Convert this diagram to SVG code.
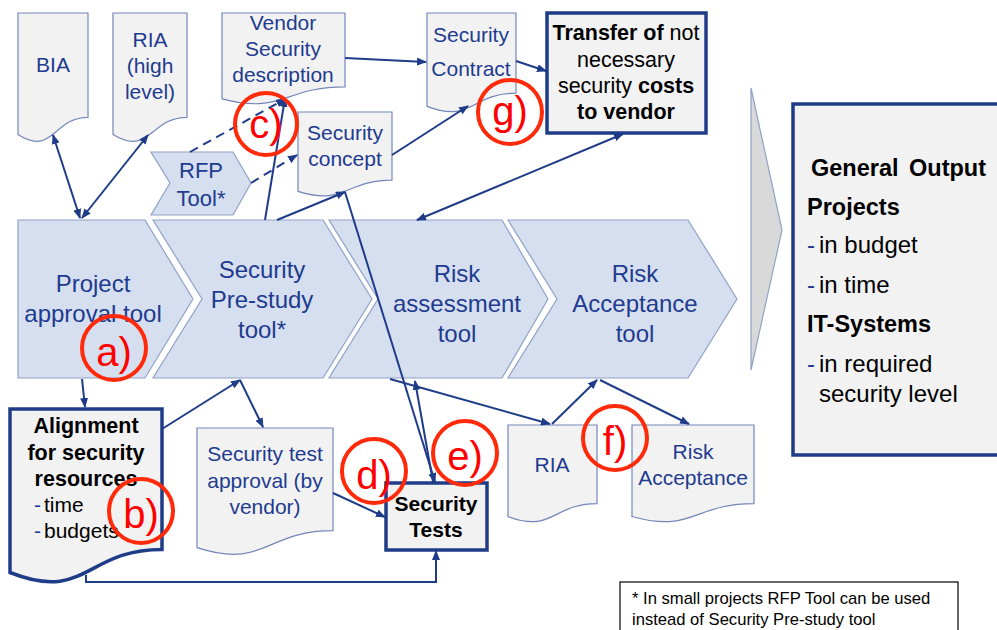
<svg xmlns="http://www.w3.org/2000/svg" width="997" height="630" viewBox="0 0 997 630">
  <defs>
    <marker id="ah" viewBox="0 0 10 8" refX="9" refY="4" markerWidth="10" markerHeight="8" markerUnits="userSpaceOnUse" orient="auto-start-reverse">
      <path d="M0,0 L10,4 L0,8 z" fill="#1F3C88"/>
    </marker>
    <style>
      .chev { fill: #D6DFEF; stroke: #8FA2C6; stroke-width: 1.2; }
      .doc { fill: #F2F2F2; stroke: #7386B8; stroke-width: 1.2; }
      .docB { fill: #F2F2F2; stroke: #1F3C88; stroke-width: 3.5; }
      .t { font-family: "Liberation Sans", Arial, sans-serif; fill: #1E3B8F; text-anchor: middle; }
      .k { font-family: "Liberation Sans", Arial, sans-serif; fill: #000; }
      .b { font-weight: bold; }
      .con { fill: none; stroke: #1F3C88; stroke-width: 2; }
      .dash { stroke-dasharray: 9 6; }
      .ring { fill: none; stroke: #FF2A0A; stroke-width: 4; }
      .lbl { font-family: "Liberation Sans", Arial, sans-serif; fill: #FF0000; font-size: 40px; text-anchor: middle; }
    </style>
  </defs>

  <!-- process chevrons -->
  <g id="project-approval-tool">
    <path class="chev" d="M18,220 H145 L193,299 L145,378 H18 Z"/>
    <text class="t" font-size="24" x="93" y="292">Project</text>
    <text class="t" font-size="24" x="93" y="322">approval tool</text>
  </g>
  <g id="security-prestudy-tool">
    <path class="chev" d="M153,220 H323 L372,299 L323,378 H153 L202,299 Z"/>
    <text class="t" font-size="24" x="262" y="278">Security</text>
    <text class="t" font-size="24" x="262" y="308">Pre-study</text>
    <text class="t" font-size="24" x="262" y="338">tool*</text>
  </g>
  <g id="risk-assessment-tool">
    <path class="chev" d="M329,220 H502 L548,299 L502,378 H329 L378,299 Z"/>
    <text class="t" font-size="24" x="457" y="282">Risk</text>
    <text class="t" font-size="24" x="457" y="312">assessment</text>
    <text class="t" font-size="24" x="457" y="342">tool</text>
  </g>
  <g id="risk-acceptance-tool">
    <path class="chev" d="M508,220 H688 L737,299 L688,378 H508 L557,299 Z"/>
    <text class="t" font-size="24" x="635" y="282">Risk</text>
    <text class="t" font-size="24" x="635" y="312">Acceptance</text>
    <text class="t" font-size="24" x="635" y="342">tool</text>
  </g>

  <!-- large output arrow -->
  <g id="output-arrow">
    <path d="M751,88 L782,230 L751,370 Z" fill="#D9D9D9" stroke="#8FA2C6" stroke-width="1.2"/>
  </g>

  <!-- general output box -->
  <g id="general-output">
    <rect x="793" y="104" width="220" height="351" fill="#F2F2F2" stroke="#1F3C88" stroke-width="3.5"/>
    <text class="k b" font-size="23.5" x="811" y="176" word-spacing="4">General Output</text>
    <text class="k b" font-size="23.5" x="807" y="215">Projects</text>
    <text class="k" font-size="24" x="807" y="253"><tspan fill="#1E3B8F">-</tspan><tspan x="819">in budget</tspan></text>
    <text class="k" font-size="24" x="807" y="293"><tspan fill="#1E3B8F">-</tspan><tspan x="819">in time</tspan></text>
    <text class="k b" font-size="23.5" x="807" y="332">IT-Systems</text>
    <text class="k" font-size="24" x="807" y="372"><tspan fill="#1E3B8F">-</tspan><tspan x="819">in required</tspan></text>
    <text class="k" font-size="24" x="819" y="402">security level</text>
  </g>

  <!-- documents, top row -->
  <g id="bia">
    <path class="doc" d="M18,13 H88 V117.3 C53,117.3 53,156.9 18,134.4 Z"/>
    <text class="t" font-size="21" x="53" y="72">BIA</text>
  </g>
  <g id="ria-high-level">
    <path class="doc" d="M113,13 H187 V117.3 C150,117.3 150,156.9 113,134.4 Z"/>
    <text class="t" font-size="21" x="150" y="47">RIA</text>
    <text class="t" font-size="21" x="150" y="73">(high</text>
    <text class="t" font-size="21" x="150" y="99">level)</text>
  </g>
  <g id="vendor-security-description">
    <path class="doc" d="M222,13 H345 V86.8 C283.5,86.8 283.5,114.8 222,98.9 Z"/>
    <text class="t" font-size="21" x="283" y="30">Vendor</text>
    <text class="t" font-size="21" x="283" y="56">Security</text>
    <text class="t" font-size="21" x="283" y="82">description</text>
  </g>
  <g id="security-contract">
    <path class="doc" d="M427,13 H516 V93.2 C471.5,93.2 471.5,123.7 427,106.4 Z"/>
    <text class="t" font-size="21" x="471" y="42">Security</text>
    <text class="t" font-size="21" x="471" y="76">Contract</text>
  </g>
  <g id="security-concept">
    <path class="doc" d="M298,112 H392 V180.2 C345,180.2 345,206.1 298,191.4 Z"/>
    <text class="t" font-size="21" x="345" y="140">Security</text>
    <text class="t" font-size="21" x="345" y="166">concept</text>
  </g>
  <g id="rfp-tool">
    <path class="chev" d="M151,152 H233 L251,183 L233,215 H151 L170,183 Z"/>
    <text class="t" font-size="22" x="201" y="178">RFP</text>
    <text class="t" font-size="22" x="201" y="206">Tool*</text>
  </g>
  <g id="transfer-costs">
    <rect x="547" y="13" width="159" height="120" fill="#F2F2F2" stroke="#1F3C88" stroke-width="3.5"/>
    <text class="k" font-size="21.5" x="626" y="40" text-anchor="middle"><tspan font-weight="bold">Transfer of</tspan> not</text>
    <text class="k" font-size="21.5" x="626" y="67" text-anchor="middle">necessary</text>
    <text class="k" font-size="21.5" x="626" y="93" text-anchor="middle">security <tspan font-weight="bold">costs</tspan></text>
    <text class="k b" font-size="21.5" x="626" y="119" text-anchor="middle">to vendor</text>
  </g>

  <!-- documents, bottom row -->
  <g id="alignment-resources">
    <path class="docB" d="M10,409 H162 V549.4 C86,549.4 86,602.7 10,572.5 Z"/>
    <text class="k b" font-size="21.5" x="86" y="433" text-anchor="middle">Alignment</text>
    <text class="k b" font-size="21.5" x="86" y="460" text-anchor="middle">for security</text>
    <text class="k b" font-size="21.5" x="86" y="486" text-anchor="middle">resources</text>
    <text class="k" font-size="21" x="34" y="512"><tspan fill="#1E3B8F">-</tspan><tspan x="44">time</tspan></text>
    <text class="k" font-size="21" x="34" y="538"><tspan fill="#1E3B8F">-</tspan><tspan x="44">budgets</tspan></text>
  </g>
  <g id="security-test-approval">
    <path class="doc" d="M197,428 H333 V530.7 C265,530.7 265,569.7 197,547.6 Z"/>
    <text class="t" font-size="21" x="265" y="461">Security test</text>
    <text class="t" font-size="21" x="265" y="488">approval (by</text>
    <text class="t" font-size="21" x="265" y="514">vendor)</text>
  </g>
  <g id="security-tests">
    <rect x="386" y="483" width="101" height="67" fill="#F2F2F2" stroke="#1F3C88" stroke-width="3.5"/>
    <text class="k b" font-size="21" x="436" y="511" text-anchor="middle">Security</text>
    <text class="k b" font-size="21" x="436" y="537" text-anchor="middle">Tests</text>
  </g>
  <g id="ria">
    <path class="doc" d="M508,425 H597 V503.6 C552.5,503.6 552.5,533.5 508,516.5 Z"/>
    <text class="t" font-size="21" x="552" y="472">RIA</text>
  </g>
  <g id="risk-acceptance">
    <path class="doc" d="M632,425 H754 V503.6 C693,503.6 693,533.5 632,516.5 Z"/>
    <text class="t" font-size="21" x="693" y="459">Risk</text>
    <text class="t" font-size="21" x="693" y="485">Acceptance</text>
  </g>

  <!-- footnote -->
  <g id="footnote">
    <rect x="620" y="582" width="338" height="60" fill="#FFFFFF" stroke="#000" stroke-width="1.2"/>
    <text class="k" font-size="16.6" x="632" y="604">* In small projects RFP Tool can be used</text>
    <text class="k" font-size="16.6" x="632" y="625">instead of Security Pre-study tool</text>
  </g>

  <!-- connectors -->
  <g id="connectors">
    <line class="con" x1="53" y1="135" x2="80" y2="218" marker-start="url(#ah)" marker-end="url(#ah)"/>
    <line class="con" x1="148" y1="135" x2="82" y2="218" marker-start="url(#ah)" marker-end="url(#ah)"/>
    <line class="con dash" x1="190" y1="152" x2="285" y2="99" marker-end="url(#ah)"/>
    <line class="con dash" x1="251" y1="183" x2="297" y2="155" marker-end="url(#ah)"/>
    <line class="con" x1="265" y1="220" x2="285" y2="98" marker-end="url(#ah)"/>
    <line class="con" x1="277" y1="220" x2="345" y2="192" marker-end="url(#ah)"/>
    <line class="con" x1="345" y1="192" x2="435" y2="482" marker-end="url(#ah)"/>
    <line class="con" x1="433" y1="482" x2="415" y2="381" marker-end="url(#ah)"/>
    <line class="con" x1="390" y1="379" x2="550" y2="424" marker-end="url(#ah)"/>
    <line class="con" x1="552" y1="424" x2="597" y2="380" marker-end="url(#ah)"/>
    <line class="con" x1="600" y1="380" x2="689" y2="424" marker-end="url(#ah)"/>
    <line class="con" x1="623" y1="134" x2="417" y2="220" marker-start="url(#ah)" marker-end="url(#ah)"/>
    <line class="con" x1="345" y1="58" x2="426" y2="62" marker-end="url(#ah)"/>
    <line class="con" x1="516" y1="61" x2="546" y2="71" marker-end="url(#ah)"/>
    <line class="con" x1="392" y1="155" x2="468" y2="106" marker-end="url(#ah)"/>
    <line class="con" x1="82" y1="379" x2="85" y2="407" marker-end="url(#ah)"/>
    <line class="con" x1="162" y1="429" x2="240" y2="380" marker-end="url(#ah)"/>
    <line class="con" x1="240" y1="380" x2="263" y2="427" marker-end="url(#ah)"/>
    <line class="con" x1="333" y1="493" x2="385" y2="517" marker-end="url(#ah)"/>
    <polyline class="con" stroke-width="1.6" points="86,575 86,582 436,582 436,551" marker-end="url(#ah)"/>
  </g>

  <!-- step markers -->
  <g id="markers">
    <circle class="ring" cx="114" cy="348" r="32"/>
    <text class="lbl" x="114" y="366">a)</text>
    <circle class="ring" cx="141" cy="511" r="32"/>
    <text class="lbl" x="141" y="528">b)</text>
    <circle class="ring" cx="266" cy="124" r="31"/>
    <text class="lbl" font-size="36" x="266" y="138">c)</text>
    <circle class="ring" cx="374" cy="471" r="32"/>
    <text class="lbl" x="374" y="489">d)</text>
    <circle class="ring" cx="465" cy="453" r="32"/>
    <text class="lbl" x="465" y="470">e)</text>
    <circle class="ring" cx="615" cy="438" r="32"/>
    <text class="lbl" x="615" y="455">f)</text>
    <circle class="ring" cx="510" cy="112" r="32"/>
    <text class="lbl" x="510" y="125">g)</text>
  </g>
</svg>
